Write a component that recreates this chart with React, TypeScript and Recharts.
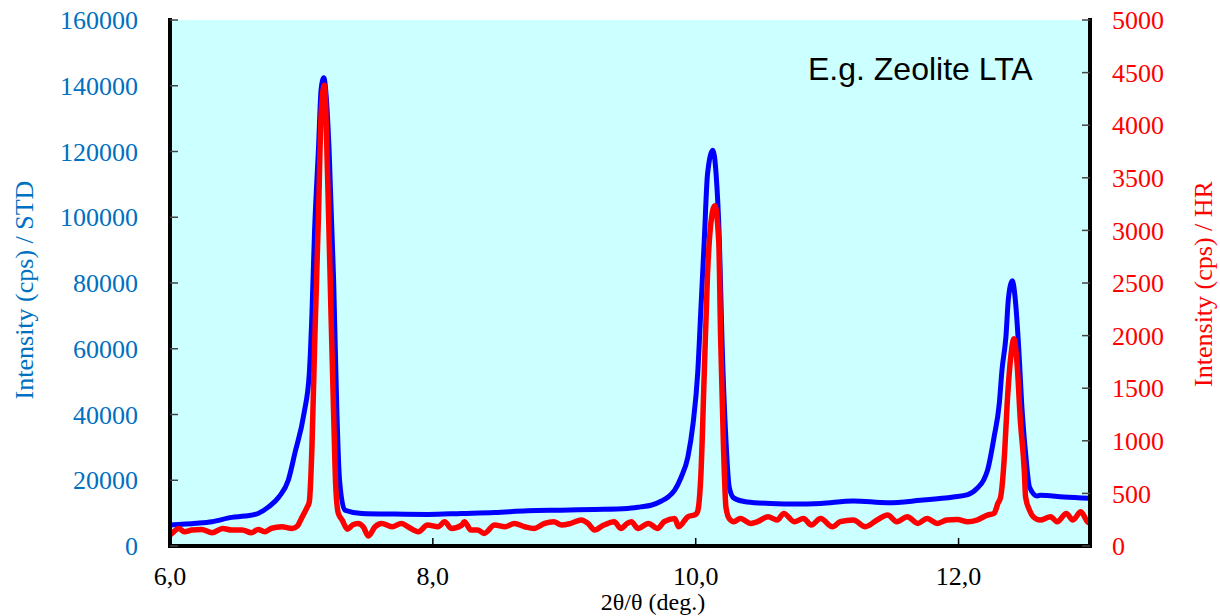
import React from "react";
import { LineChart, Line, XAxis, YAxis, CartesianGrid } from "recharts";

// 2θ positions and intensities
const stdX = [
  6.0, 6.2, 6.32, 6.47, 6.57, 6.67, 6.75, 6.83, 6.9, 6.95, 7.02, 7.06, 7.08, 7.1, 7.13, 7.15, 7.17, 7.19,
  7.21, 7.245, 7.27, 7.29, 7.33, 7.46, 7.71, 7.96, 8.22, 8.47, 8.72, 8.98, 9.23, 9.48, 9.58, 9.66, 9.74,
  9.79, 9.84, 9.89, 9.94, 9.98, 10.015, 10.04, 10.065, 10.09, 10.13, 10.155, 10.18, 10.2, 10.23, 10.255,
  10.29, 10.39, 10.57, 10.75, 10.95, 11.2, 11.46, 11.71, 11.96, 12.07, 12.14, 12.19, 12.22, 12.27, 12.31,
  12.33, 12.36, 12.38, 12.41, 12.43, 12.46, 12.48, 12.51, 12.54, 12.6, 12.62, 12.8, 13.0,
];
const stdY = [
  6400, 6900, 7400, 8700, 9100, 9900, 11900, 15000, 20000, 28200, 40400, 52500, 70700, 95900, 121100,
  139000, 142400, 136000, 121000, 80800, 40400, 20000, 10900, 9900, 9700, 9600, 9900, 10200, 10700, 10900,
  11100, 11400, 11900, 12400, 13700, 14900, 17000, 21000, 27000, 37300, 52500, 72600, 92900, 113200,
  120400, 113200, 92900, 62500, 32200, 17900, 14600, 13400, 12950, 12750, 12950, 13700, 13150, 13900,
  14900, 15600, 17500, 20000, 23000, 33100, 43400, 53400, 63500, 75600, 80700, 75600, 58600, 43400,
  28200, 17900, 15200, 15400, 14900, 14500,
];

const hrX = [
  6.0, 6.015, 6.066, 6.11, 6.167, 6.24, 6.32, 6.4, 6.47, 6.55, 6.62, 6.67, 6.72, 6.77, 6.85, 6.93, 6.97,
  7.0, 7.04, 7.06, 7.08, 7.1, 7.13, 7.15, 7.175, 7.2, 7.225, 7.245, 7.26, 7.28, 7.31, 7.35, 7.39, 7.43,
  7.47, 7.51, 7.56, 7.61, 7.69, 7.76, 7.81, 7.89, 7.96, 8.04, 8.09, 8.14, 8.22, 8.24, 8.29, 8.34, 8.39,
  8.47, 8.55, 8.62, 8.7, 8.77, 8.85, 8.92, 8.98, 9.05, 9.13, 9.18, 9.23, 9.3, 9.38, 9.43, 9.48, 9.51,
  9.56, 9.64, 9.71, 9.76, 9.84, 9.87, 9.94, 10.0, 10.015, 10.04, 10.065, 10.09, 10.115, 10.145, 10.175,
  10.19, 10.21, 10.23, 10.255, 10.29, 10.34, 10.42, 10.47, 10.55, 10.62, 10.67, 10.75, 10.82, 10.88,
  10.95, 11.04, 11.1, 11.2, 11.29, 11.38, 11.46, 11.53, 11.61, 11.69, 11.76, 11.84, 11.91, 11.99, 12.07,
  12.14, 12.22, 12.27, 12.3, 12.32, 12.35, 12.37, 12.4, 12.42, 12.445, 12.47, 12.5, 12.51, 12.54, 12.57,
  12.62, 12.7, 12.75, 12.82, 12.87, 12.93, 12.98, 13.0,
];
const hrY = [
  105, 120, 167, 136, 152, 158, 126, 167, 152, 152, 126, 158, 136, 167, 183, 167, 190, 262, 360, 420,
  940, 1890, 3160, 4110, 4380, 3470, 2210, 1260, 600, 313, 247, 160, 200, 215, 183, 95, 183, 215, 183,
  215, 183, 136, 199, 183, 231, 167, 199, 231, 152, 152, 120, 199, 183, 215, 183, 167, 215, 231, 199,
  215, 247, 215, 152, 199, 231, 167, 215, 231, 167, 215, 167, 231, 262, 183, 278, 300, 330, 693, 1640,
  2590, 3065, 3235, 2900, 1955, 1005, 370, 260, 231, 262, 215, 231, 278, 247, 310, 231, 262, 199, 262,
  183, 231, 247, 183, 247, 294, 231, 278, 215, 262, 215, 247, 253, 231, 247, 294, 310, 408, 465, 880,
  1357, 1830, 1970, 1735, 1195, 720, 465, 340, 275, 247, 278, 231, 310, 247, 326, 231, 215,
];

const xTicks = [6, 8, 10, 12];
const leftTicks = [0, 20000, 40000, 60000, 80000, 100000, 120000, 140000, 160000];
const rightTicks = [0, 500, 1000, 1500, 2000, 2500, 3000, 3500, 4000, 4500, 5000];

const stdData = stdX.map((x, i) => ({ x, y: stdY[i] }));
const hrData = hrX.map((x, i) => ({ x, y: hrY[i] }));

const serif = "'Liberation Serif', 'Times New Roman', serif";
const sans = "'Liberation Sans', Arial, sans-serif";
const axisBlue = "#0070c0";
const frame = { stroke: "#000", strokeWidth: 4, strokeLinecap: "square" as const };

export default function App() {
  return (
    <div style={{ position: "absolute", left: 0, top: 0, width: 1220, height: 616, background: "#fff" }}>
      <LineChart width={1220} height={616} margin={{ top: 20, right: 0, bottom: 0, left: 0 }}>
        <CartesianGrid fill="#ccffff" stroke="none" horizontal={false} vertical={false} />
        <XAxis
          dataKey="x"
          type="number"
          domain={[6, 13]}
          ticks={xTicks}
          allowDataOverflow
          height={70}
          axisLine={frame}
          tickLine={{ stroke: "#000", strokeWidth: 1.5 }}
          tickSize={-8}
          tickMargin={29}
          tickFormatter={(v: number) => v.toFixed(1).replace(".", ",")}
          tick={{ fill: "#000", fontFamily: serif, fontSize: 26 }}
        />
        <XAxis
          xAxisId="top"
          orientation="top"
          dataKey="x"
          type="number"
          domain={[6, 13]}
          height={0}
          tick={false}
          tickLine={false}
          axisLine={frame}
        />
        <YAxis
          yAxisId="std"
          orientation="left"
          domain={[0, 160000]}
          ticks={leftTicks}
          width={170}
          axisLine={frame}
          tickLine={{ stroke: "#444", strokeWidth: 1.5 }}
          tickSize={-8}
          tickMargin={40}
          tick={{ fill: axisBlue, fontFamily: serif, fontSize: 26 }}
        />
        <YAxis
          yAxisId="hr"
          orientation="right"
          domain={[0, 5000]}
          ticks={rightTicks}
          width={130}
          axisLine={frame}
          tickLine={{ stroke: "#444", strokeWidth: 1.5 }}
          tickSize={-8}
          tickMargin={30}
          tick={{ fill: "#ff0000", fontFamily: serif, fontSize: 26 }}
        />
        <Line
          data={stdData}
          yAxisId="std"
          dataKey="y"
          type="monotone"
          stroke="#0000ff"
          strokeWidth={5}
          dot={false}
          isAnimationActive={false}
        />
        <Line
          data={hrData}
          yAxisId="hr"
          dataKey="y"
          type="monotone"
          stroke="#ff0000"
          strokeWidth={5.5}
          dot={false}
          isAnimationActive={false}
        />
      </LineChart>
      <svg
        width={1220}
        height={616}
        style={{ position: "absolute", left: 0, top: 0, pointerEvents: "none" }}
      >
        <text x={808} y={80} fontFamily={sans} fontSize={32} fill="#000">
          E.g. Zeolite LTA
        </text>
        <text x={653} y={610} textAnchor="middle" fontFamily={serif} fontSize={24} fill="#000">
          2θ/θ (deg.)
        </text>
        <text
          x={0}
          y={0}
          transform="translate(33 290) rotate(-90)"
          textAnchor="middle"
          fontFamily={serif}
          fontSize={26}
          fill={axisBlue}
        >
          Intensity (cps) / STD
        </text>
        <text
          x={0}
          y={0}
          transform="translate(1212 284) rotate(-90)"
          textAnchor="middle"
          fontFamily={serif}
          fontSize={26}
          fill="#ff0000"
        >
          Intensity (cps) / HR
        </text>
      </svg>
    </div>
  );
}
